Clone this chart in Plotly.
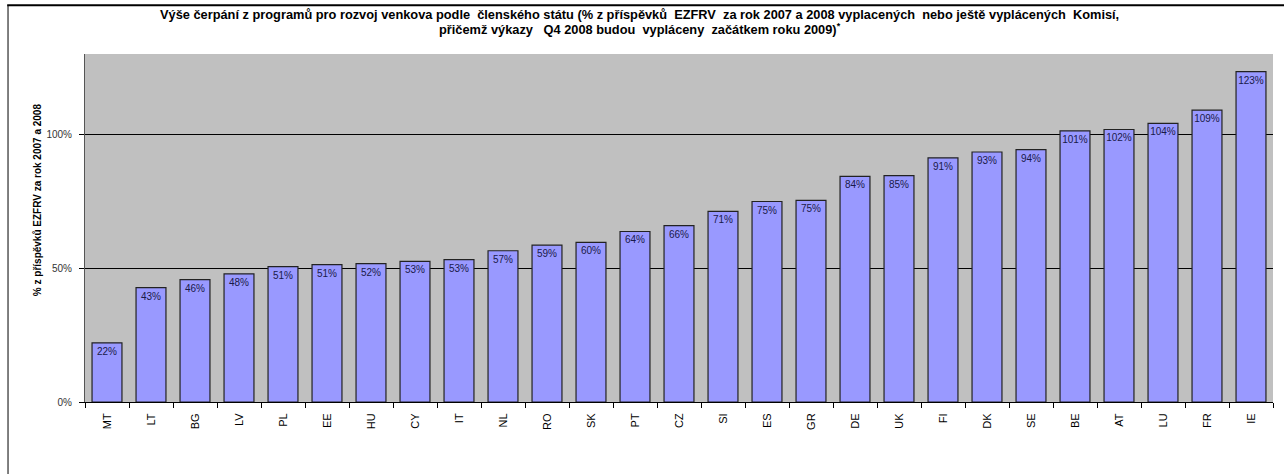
import plotly.graph_objects as go

countries = ["MT", "LT", "BG", "LV", "PL", "EE", "HU", "CY", "IT", "NL", "RO", "SK", "PT", "CZ",
             "SI", "ES", "GR", "DE", "UK", "FI", "DK", "SE", "BE", "AT", "LU", "FR", "IE"]
values = [22.1, 42.7, 45.7, 47.9, 50.6, 51.3, 51.7, 52.5, 53.2, 56.5, 58.6, 59.6, 63.7, 65.9,
          71.2, 74.9, 75.3, 84.3, 84.6, 91.2, 93.4, 94.3, 101.3, 101.8, 104.1, 109.0, 123.4]
labels = ["22%", "43%", "46%", "48%", "51%", "51%", "52%", "53%", "53%", "57%", "59%", "60%", "64%", "66%",
          "71%", "75%", "75%", "84%", "85%", "91%", "93%", "94%", "101%", "102%", "104%", "109%", "123%"]
y_ticks = [0, 50, 100]
y_tick_labels = ["0%", "50%", "100%"]

title_line1 = ("Výše čerpání z programů pro rozvoj venkova podle  členského státu (% z příspěvků  EZFRV  za rok 2007 a 2008 "
               "vyplacených  nebo ještě vyplácených  Komisí,")
title_line2 = "přičemž výkazy   Q4 2008 budou  vypláceny  začátkem roku 2009)<sup>*</sup>"
y_title = "% z příspěvků EZFRV za rok 2007 a 2008"

title_font = dict(size=12.8, family="Liberation Sans Narrow, Arial Narrow, Arial", color="black")

fig = go.Figure()
fig.add_trace(go.Bar(
    x=countries, y=values, text=labels,
    textposition="inside", insidetextanchor="end", constraintext="none", textangle=0,
    textfont=dict(family="Arial, Liberation Sans", size=10, color="#1a1a4a"),
    marker=dict(color="#9999FF", line=dict(color="#222222", width=1.2)),
    width=0.68,
))

fig.update_layout(
    width=1284, height=474,
    margin=dict(l=85, r=11, t=54, b=72),
    paper_bgcolor="white", plot_bgcolor="#C0C0C0",
    showlegend=False,
    font=dict(family="Arial, Liberation Sans", color="black"),
    annotations=[
        dict(text="<b>" + title_line1 + "</b>", xref="paper", yref="paper",
             x=0.467, y=1.0, yshift=40, xanchor="center", yanchor="middle",
             showarrow=False, font=title_font),
        dict(text="<b>" + title_line2 + "</b>", xref="paper", yref="paper",
             x=0.467, y=1.0, yshift=25, xanchor="center", yanchor="middle",
             showarrow=False, font=title_font),
        dict(text="<b>" + y_title + "</b>", xref="paper", yref="paper",
             x=0, xshift=-48, y=0.58, textangle=-90, xanchor="center", yanchor="middle",
             showarrow=False, font=dict(size=10, family="Liberation Sans Narrow, Arial")),
    ],
    shapes=[
        dict(type="line", xref="paper", yref="paper", x0=-0.0648, x1=-0.0648, y0=-0.25, y1=1.14,
             line=dict(color="black", width=1)),
        dict(type="line", xref="paper", yref="paper", x0=-0.0655, x1=1.02, y0=1.14, y1=1.14,
             line=dict(color="black", width=2)),
    ],
)
fig.update_xaxes(
    tickangle=-90, tickfont=dict(size=11, family="Arial, Liberation Sans"),
    showline=True, linecolor="black", linewidth=1, mirror=False,
    ticks="outside", tickson="boundaries", ticklen=5, tickcolor="black",
    ticklabelstandoff=6, showgrid=False,
)
fig.update_yaxes(
    range=[0, 130], tickvals=y_ticks, ticktext=y_tick_labels,
    tickfont=dict(size=10, family="Arial, Liberation Sans", color="#333333"),
    showline=True, linecolor="#555555", linewidth=1,
    ticks="outside", ticklen=5, tickcolor="black", ticklabelstandoff=5,
    showgrid=True, gridcolor="black", gridwidth=1, zeroline=False,
)
fig.write_html("out.html", config={"displayModeBar": False},
               post_script="document.body.style.margin='0';")
